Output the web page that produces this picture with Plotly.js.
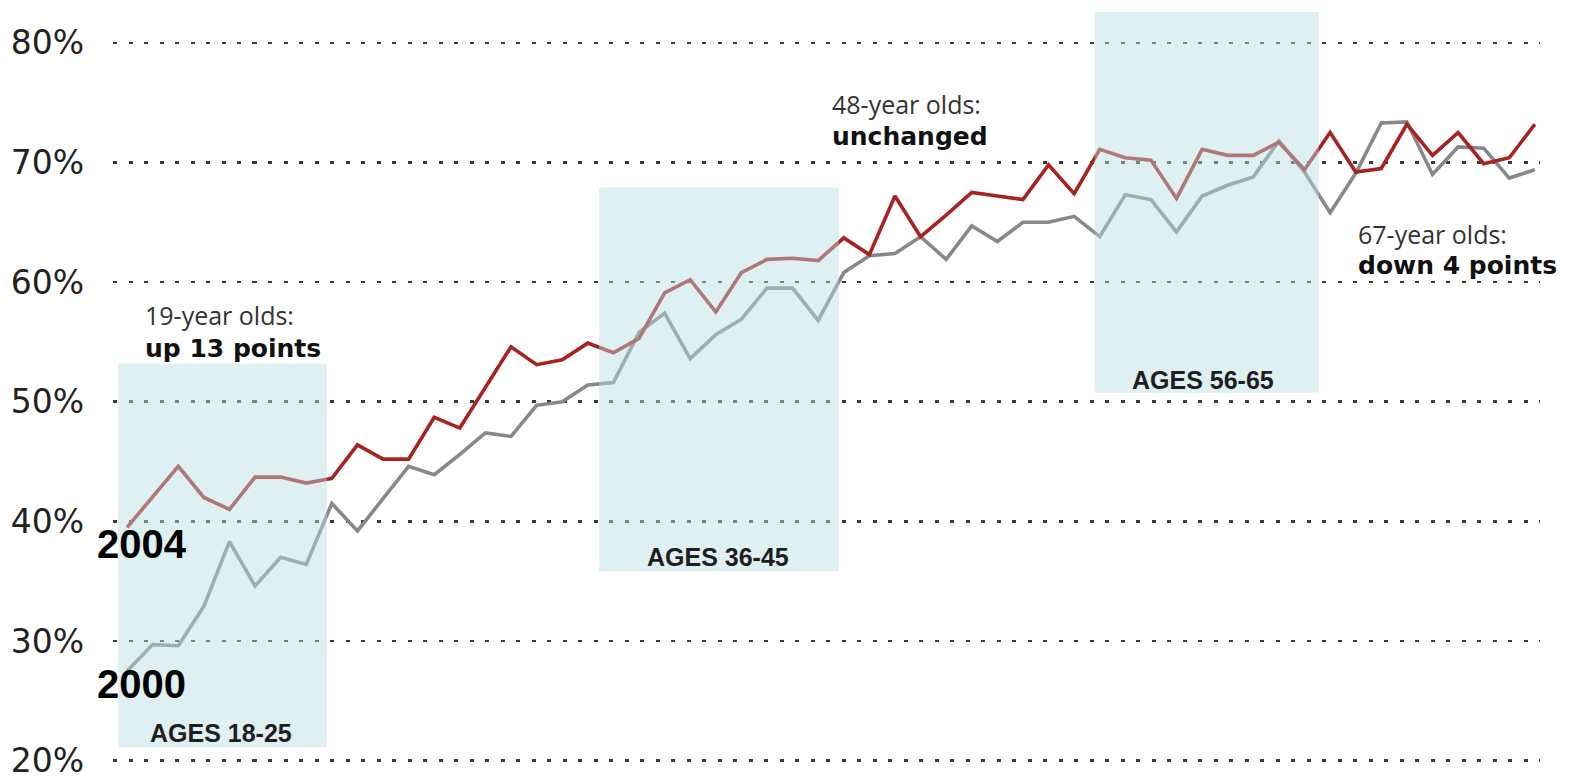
<!DOCTYPE html>
<html>
<head>
<meta charset="utf-8">
<script src="https://cdn.plot.ly/plotly-3.0.1.min.js"></script>
<style>
  html, body { margin: 0; padding: 0; background: #ffffff; }
  #chart { width: 1574px; height: 777px; }
</style>
</head>
<body>
<div id="chart"></div>
<script>
// Age of respondent (x)
const ages = [18,19,20,21,22,23,24,25,26,27,28,29,30,31,32,33,34,35,36,37,38,39,40,41,42,43,44,45,
              46,47,48,49,50,51,52,53,54,55,56,57,58,59,60,61,62,63,64,65,66,67,68,69,70,71,72,73];
// Share voting, 2000 (gray)
const rate2000 = [27.5,29.7,29.6,32.9,38.3,34.6,37.0,36.4,41.5,39.2,41.9,44.6,43.9,45.6,47.4,47.1,49.7,50.0,51.4,51.6,55.8,57.4,53.6,55.6,56.9,59.5,59.5,56.8,
                  60.8,62.2,62.4,63.8,61.9,64.7,63.4,65.0,65.0,65.5,63.8,67.3,66.9,64.2,67.2,68.1,68.8,71.8,69.2,65.8,69.1,73.3,73.4,69.0,71.3,71.2,68.7,69.4];
// Share voting, 2004 (red)
const rate2004 = [39.5,42.0,44.6,42.0,41.0,43.7,43.7,43.2,43.6,46.4,45.2,45.2,48.7,47.8,51.2,54.6,53.1,53.5,54.9,54.1,55.3,59.1,60.2,57.5,60.8,61.9,62.0,61.8,
                  63.7,62.3,67.2,63.8,65.6,67.5,67.2,66.9,69.8,67.4,71.1,70.4,70.2,67.0,71.1,70.6,70.6,71.7,69.4,72.5,69.2,69.5,73.2,70.6,72.5,69.9,70.4,73.2];

const yTickVals = [20,30,40,50,60,70,80];
const yTickText = ['20%','30%','40%','50%','60%','70%','80%'];

// Highlighted age bands
const bandLabels   = ['AGES 18-25','AGES 36-45','AGES 56-65'];
const bandAgeFrom  = [17.65, 36.44, 55.81];
const bandAgeTo    = [25.81, 45.81, 64.56];
const bandRateFrom = [21.1, 35.83, 50.76];
const bandRateTo   = [53.18, 67.91, 82.59];
const bandLabelAge  = [21.66, 41.09, 60.03];
const bandLabelRate = [22.29, 37.0, 51.85];

// Callout notes
const noteAge   = [18.62, 45.46, 66.0];
const noteLine1 = ['19-year olds:','48-year olds:','67-year olds:'];
const noteLine2 = ['up 13 points','unchanged','down 4 points'];
const noteRate1 = [57.25, 74.9, 64.03];
const noteRate2 = [54.44, 72.15, 61.35];

const seriesNames = ['2000','2004'];
const seriesLabelRate = [26.37, 38.15];

const traces = [
  { x: ages, y: rate2000, type: 'scatter', mode: 'lines', name: seriesNames[0],
    line: { color: '#888888', width: 3.6 }, hoverinfo: 'skip' },
  { x: ages, y: rate2004, type: 'scatter', mode: 'lines', name: seriesNames[1],
    line: { color: '#a8231f', width: 3.6 }, hoverinfo: 'skip' }
];

const shapes = bandLabels.map((_, i) => ({
  type: 'rect', xref: 'x', yref: 'y', layer: 'above',
  x0: bandAgeFrom[i], x1: bandAgeTo[i], y0: bandRateFrom[i], y1: bandRateTo[i],
  fillcolor: 'rgb(184,222,228)', opacity: 0.45, line: { width: 0 }
}));

const annotations = [];
bandLabels.forEach((t, i) => annotations.push({
  text: '<b>' + t + '</b>', x: bandLabelAge[i], y: bandLabelRate[i], xref: 'x', yref: 'y',
  xanchor: 'center', yanchor: 'middle', showarrow: false,
  font: { family: 'Liberation Sans, Arial, sans-serif', size: 25, color: '#1e1e1e' }
}));
noteLine1.forEach((t, i) => {
  annotations.push({
    text: t, x: noteAge[i], y: noteRate1[i], xref: 'x', yref: 'y',
    xanchor: 'left', yanchor: 'middle', showarrow: false,
    font: { family: 'Open Sans, sans-serif', size: 25, color: '#333' }
  });
  annotations.push({
    text: '<b>' + noteLine2[i] + '</b>', x: noteAge[i], y: noteRate2[i], xref: 'x', yref: 'y',
    xanchor: 'left', yanchor: 'middle', showarrow: false,
    font: { family: 'DejaVu Sans, sans-serif', size: 25, color: '#111' }
  });
});
seriesNames.forEach((t, i) => annotations.push({
  text: '<b>' + t + '</b>', x: -0.0126, y: seriesLabelRate[i], xref: 'paper', yref: 'y',
  xanchor: 'left', yanchor: 'middle', showarrow: false,
  font: { family: 'Liberation Sans, Arial, sans-serif', size: 40, color: '#000' }
}));

const layout = {
  width: 1574, height: 777,
  margin: { l: 113, r: 34, t: 7, b: 14, pad: 0 },
  paper_bgcolor: '#ffffff', plot_bgcolor: '#ffffff',
  showlegend: false,
  xaxis: { range: [17.45, 73.2], showgrid: false, zeroline: false, showline: false,
           showticklabels: false, ticks: '' },
  yaxis: { range: [19.8, 83], tickvals: yTickVals, ticktext: yTickText,
           showgrid: true, gridcolor: '#3a3a3a', gridwidth: 2.6, griddash: '4px,11.5px',
           zeroline: false, showline: false, ticks: '', ticklabelstandoff: 28,
           ticklabeloverflow: 'allow',
           tickfont: { family: 'DejaVu Sans, sans-serif', size: 33, color: '#222' } },
  shapes: shapes,
  annotations: annotations
};

Plotly.newPlot('chart', traces, layout, { staticPlot: true, displayModeBar: false });
</script>
</body>
</html>
